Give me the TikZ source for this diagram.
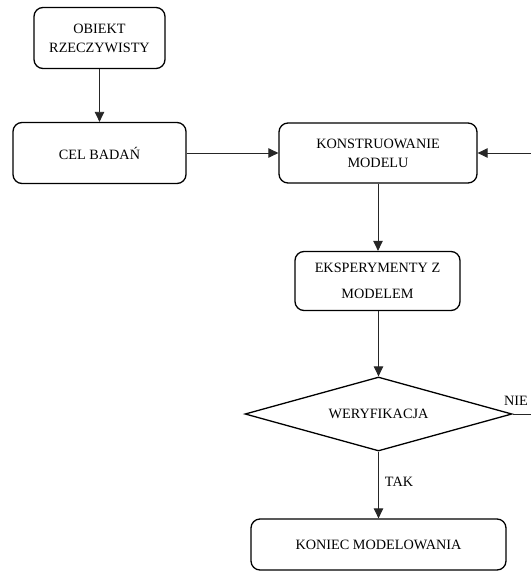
\documentclass[tikz,border=0pt]{standalone}
\usepackage{fontspec}
\setmainfont{Liberation Serif}
\usetikzlibrary{shapes.geometric,arrows.meta}
\begin{document}
\begin{tikzpicture}[x=1bp,y=-1bp,
  box/.style={draw=black, line width=1.3bp, rounded corners=9bp, inner sep=0pt, align=center,
    font=\fontsize{14.3}{19}\selectfont},
  dec/.style={draw=black, line width=1.3bp, diamond, inner sep=0pt, aspect=3.6,
    font=\fontsize{14.3}{19}\selectfont},
  conn/.style={draw=black!85, line width=0.9bp},
  arr/.style={conn, -{Triangle[length=10bp,width=9.5bp]}},
  lbl/.style={font=\fontsize{14.3}{16}\selectfont, inner sep=0pt}]
\useasboundingbox (0,0) rectangle (531,572);
\node[box, minimum width=131bp, minimum height=61bp] (obiekt) at (99.5,38) {OBIEKT\\RZECZYWISTY};
\node[box, minimum width=173bp, minimum height=61bp] (cel) at (99.5,153) {CEL BADAŃ};
\node[box, minimum width=198bp, minimum height=60bp] (konstr) at (378,153) {KONSTRUOWANIE\\MODELU};
\node[box, minimum width=165bp, minimum height=59bp, font=\fontsize{14.3}{26}\selectfont] (eksp) at (377.5,281) {EKSPERYMENTY Z\\MODELEM};
\node[dec, minimum width=267bp, minimum height=74bp] (weryf) at (378.5,414) {WERYFIKACJA};
\node[box, minimum width=255bp, minimum height=51bp] (koniec) at (378.5,544.5) {KONIEC MODELOWANIA};
\coordinate (rtop) at (531,153);
\coordinate (rbot) at (531,414);
\draw[arr] (obiekt.south) -- (obiekt.south |- cel.north);
\draw[arr] (cel.east) -- (konstr.west);
\draw[arr] (rtop) -- (konstr.east);
\draw[arr] (konstr.south) -- (eksp.north -| konstr.south);
\draw[arr] (eksp.south -| weryf.north) -- (weryf.north);
\draw[conn] (weryf.east) -- (rbot);
\draw[arr] (weryf.south) -- (koniec.north);
\node[lbl] (nie) at (516,401) {NIE};
\node[lbl] (tak) at (399,482) {TAK};
\end{tikzpicture}
\end{document}
